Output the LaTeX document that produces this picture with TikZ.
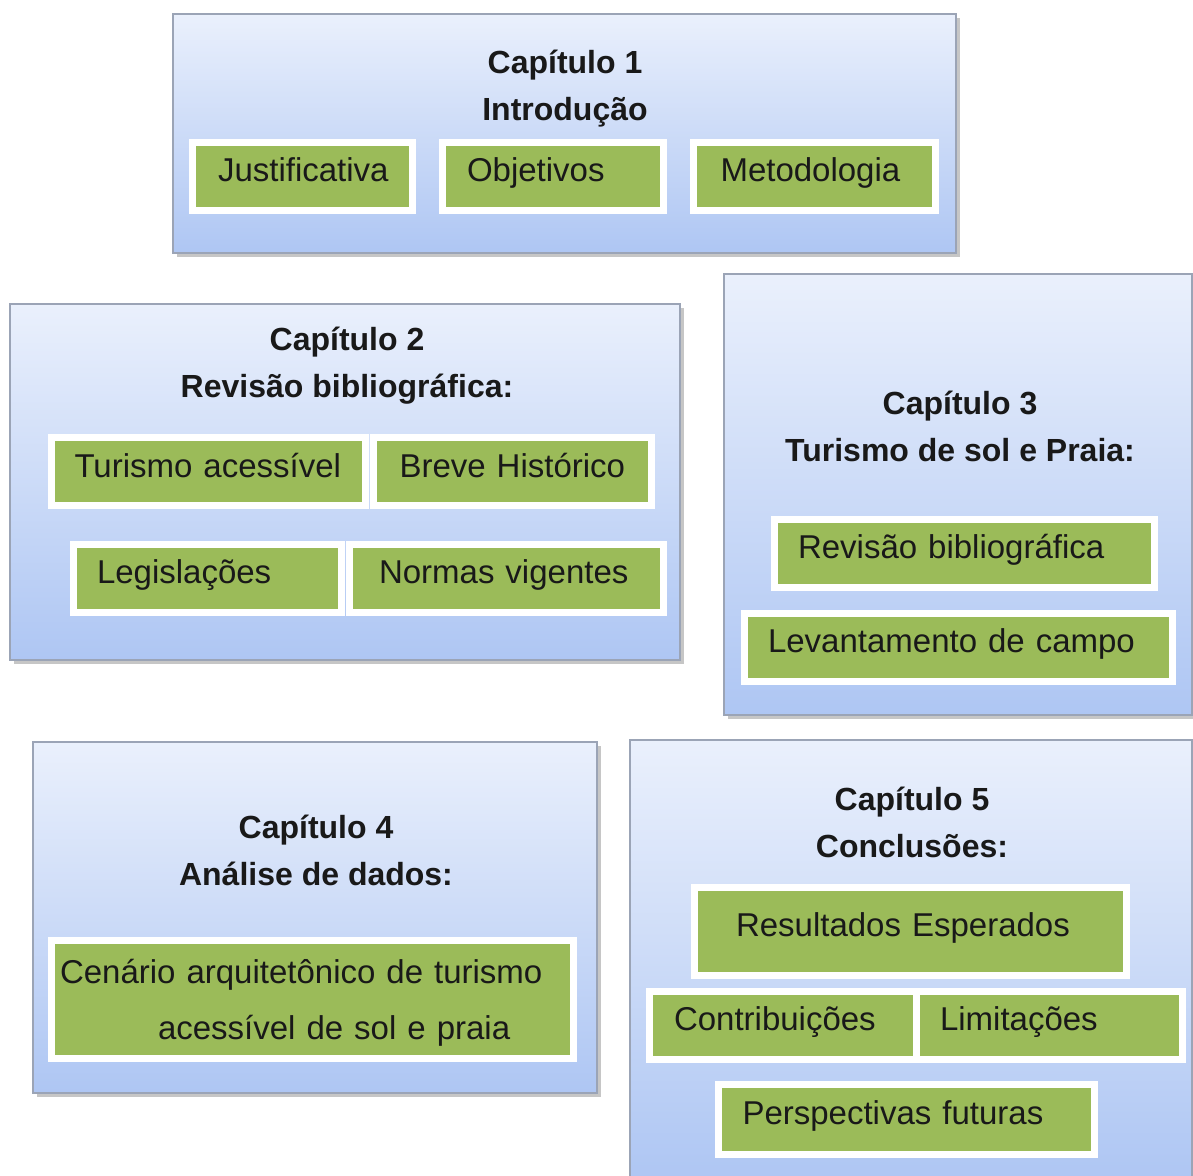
\documentclass[tikz,border=0pt]{standalone}
\usepackage{fontspec}
\setmainfont{Liberation Sans}
\usepackage{tikz}
\usetikzlibrary{shadows}
\definecolor{chaptop}{HTML}{EAF0FC}
\definecolor{chapbottom}{HTML}{AEC6F3}
\definecolor{chapline}{HTML}{9BA4B6}
\definecolor{topicgreen}{HTML}{9BBB59}
\tikzstyle{chapter} = [rectangle, draw=chapline, line width=0.8pt, top color=chaptop, bottom color=chapbottom, drop shadow={shadow xshift=1.8pt, shadow yshift=-1.8pt, opacity=0.45}]
\tikzstyle{heading} = [align=center, font=\fontsize{16}{23.5}\selectfont\bfseries, text=black!90]
\tikzstyle{topic} = [rectangle, fill=topicgreen, draw=white, line width=3.5pt, minimum height=34pt, align=left, text height=12pt, text depth=6.5pt, font=\fontsize{16.5}{20}\selectfont, text=black!90]

\begin{document}
\begin{tikzpicture}[x=0.5pt, y=-0.5pt]
      \useasboundingbox (0,0) rectangle (1193,1175);

      % chapter panels
      \node (cap1) [chapter, minimum width=391.5pt, minimum height=119.5pt] at (564.5,133.5) {};
      \node (cap2) [chapter, minimum width=335pt, minimum height=178pt] at (345,482) {};
      \node (cap3) [chapter, minimum width=234pt, minimum height=220.5pt] at (958,494.5) {};
      \node (cap4) [chapter, minimum width=282pt, minimum height=175.5pt] at (315,917.5) {};
      \node (cap5) [chapter, minimum width=281pt, minimum height=220pt] at (911,960) {};

      \node (tit1) [heading] at (565,89) {Capítulo 1\\Introdução};
      \node (tit2) [heading] at (347,366) {Capítulo 2\\Revisão bibliográfica:};
      \node (tit3) [heading] at (960,426) {Capítulo 3\\Turismo de sol e Praia:};
      \node (tit4) [heading] at (316,850) {Capítulo 4\\Análise de dados:};
      \node (tit5) [heading] at (912,822) {Capítulo 5\\Conclusões:};

      % chapter 1
      \node (jus) [topic, minimum width=110pt, text width=84pt, inner xsep=13pt] at (302,176) {Justificativa};
      \node (obj) [topic, minimum width=110.5pt, text width=85.5pt, inner xsep=12.5pt] at (552.5,176) {Objetivos};
      \node (met) [topic, minimum width=121pt, text width=94pt, inner xsep=13.5pt] at (814.5,176) {Metodologia};

      % chapter 2
      \node (tur) [topic, minimum width=157pt, text width=134pt, inner xsep=11.5pt] at (208.5,471.5) {Turismo acessível};
      \node (bre) [topic, minimum width=139pt, text width=113pt, inner xsep=13pt] at (512.5,471.5) {Breve Histórico};
      \node (leg) [topic, minimum width=134pt, text width=110pt, inner xsep=12pt] at (207,578) {Legislações};
      \node (nor) [topic, minimum width=157pt, text width=127pt, inner xsep=15pt] at (506,578) {Normas vigentes};

      % chapter 3
      \node (rev) [topic, minimum width=190pt, text width=166pt, inner xsep=12pt] at (964,553) {Revisão bibliográfica};
      \node (lev) [topic, minimum width=214pt, text width=190pt, inner xsep=12pt] at (958,647) {Levantamento de campo};

      % chapter 4
      \node (cen) [topic, minimum width=261pt, minimum height=59pt, text width=252pt, inner xsep=4.5pt, text depth=28pt, font=\fontsize{16.5}{28}\selectfont] at (312,999) {Cenário arquitetônico de turismo\\\hspace*{49pt}acessível de sol e praia};

      % chapter 5
      \node (res) [topic, minimum width=216pt, minimum height=44pt, text width=174pt, inner xsep=21pt] at (910,931) {Resultados Esperados};
      \node (con) [topic, minimum width=133.5pt, text width=108.5pt, inner xsep=12.5pt] at (782.5,1025) {Contribuições};
      \node (lim) [topic, minimum width=133pt, text width=109pt, inner xsep=12pt] at (1049,1025) {Limitações};
      \node (per) [topic, minimum width=188pt, minimum height=35pt, text width=164pt, inner xsep=12pt] at (906.5,1119) {Perspectivas futuras};
\end{tikzpicture}
\end{document}
